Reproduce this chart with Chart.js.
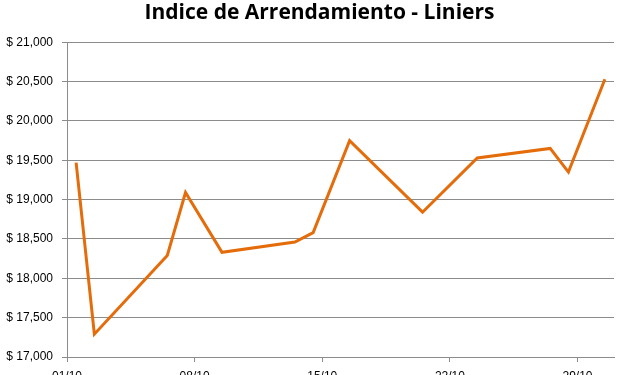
<!DOCTYPE html>
<html>
<head>
<meta charset="utf-8">
<script src="https://cdn.jsdelivr.net/npm/chart.js@4/dist/chart.umd.min.js"></script>
<style>
  html, body { margin: 0; padding: 0; background: #fff; overflow: hidden; }
  #chart { display: block; }
</style>
</head>
<body>
<canvas id="chart" width="620" height="395"></canvas>
<script>
// data
const dates = ["01/10", "02/10", "06/10", "07/10", "09/10", "13/10", "14/10", "16/10", "20/10", "23/10", "27/10", "28/10", "30/10"];
const values = [19470, 17290, 18290, 19090, 18330, 18460, 18580, 19750, 18840, 19530, 19650, 19350, 20530];
const tickLabels = ["01/10", "08/10", "15/10", "22/10", "29/10"];
const yMin = 17000;
const yMax = 21000;
const yStep = 500;

// day of month -> x value (each day sits in the middle of its slot)
const dayOf = (s) => parseInt(s.split("/")[0], 10);

const gridGray = "#8c8c8c";
const labelFont = { family: "'Liberation Sans', Arial, sans-serif", size: 12 };

// title sits a bit right of the canvas centre, like the original
const shiftTitle = {
    id: "shiftTitle",
    afterLayout(chart) {
        if (chart.titleBlock) chart.titleBlock.left += 25;
    }
};

new Chart(document.getElementById("chart"), {
    type: "line",
    data: {
        datasets: [{
            data: dates.map((d, i) => ({ x: dayOf(d), y: values[i] })),
            borderColor: "#e46c0a",
            borderWidth: 3,
            pointRadius: 0,
            tension: 0,
            fill: false
        }]
    },
    options: {
        responsive: false,
        animation: false,
        layout: { padding: { left: 0, right: 6, top: 0, bottom: 0 } },
        plugins: {
            legend: { display: false },
            tooltip: { enabled: false },
            title: {
                display: true,
                text: "Indice de Arrendamiento - Liniers",
                color: "#000",
                font: { family: "'Open Sans', sans-serif", size: 21, weight: "bold" },
                padding: { top: 0, bottom: 17 }
            }
        },
        scales: {
            x: {
                type: "linear",
                min: 0.5,
                max: 30.5,
                afterBuildTicks: (scale) => {
                    scale.ticks = tickLabels.map(t => ({ value: dayOf(t) - 0.5 }));
                },
                afterFit: (scale) => { scale.height = 38; },
                ticks: {
                    color: "#000",
                    font: labelFont,
                    padding: 7,
                    maxRotation: 0,
                    callback: (v) => {
                        const t = tickLabels.find(l => dayOf(l) - 0.5 === v);
                        return t || "";
                    }
                },
                grid: { drawOnChartArea: false, drawTicks: true, tickLength: 5, color: gridGray },
                border: { color: gridGray, width: 1 }
            },
            y: {
                min: yMin,
                max: yMax,
                afterFit: (scale) => { scale.width = 67; },
                ticks: {
                    stepSize: yStep,
                    color: "#000",
                    font: labelFont,
                    padding: 9,
                    callback: (v) => "$ " + v.toLocaleString("en-US")
                },
                grid: { color: gridGray, tickLength: 5 },
                border: { color: gridGray, width: 1 }
            }
        }
    },
    plugins: [shiftTitle]
});
</script>
</body>
</html>
